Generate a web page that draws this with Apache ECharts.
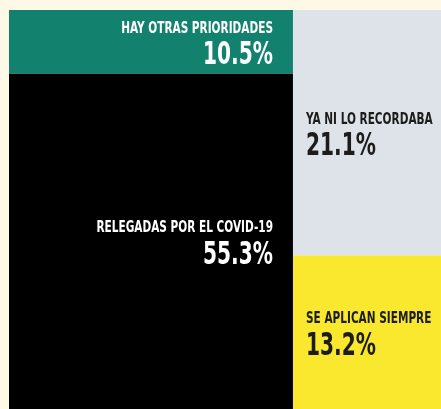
<!DOCTYPE html>
<html><head><meta charset="utf-8">
<script src="https://cdn.jsdelivr.net/npm/echarts@6/dist/echarts.min.js"></script>
<style>html,body{margin:0;padding:0;background:#fdf9e6;}#c{width:441px;height:409px;}</style>
</head><body><div id="c"></div>
<script>
// Data: two columns, each stacked top to bottom
const leftNames = ['HAY OTRAS PRIORIDADES', 'RELEGADAS POR EL COVID-19'];
const leftValues = [10.5, 55.3];
const rightNames = ['YA NI LO RECORDABA', 'SE APLICAN SIEMPRE'];
const rightValues = [21.1, 13.2];
const leftColors = ['#12826f', '#000000'];
const rightColors = ['#dde3e8', '#f9e82e'];
const leftText = ['#ffffff', '#ffffff'];
const rightText = ['#1c1c1c', '#1c1c1c'];

const FONT = '"DejaVu Sans Condensed", "DejaVu Sans", sans-serif';

const columns = [
  { names: leftNames, values: leftValues, colors: leftColors, text: leftText, side: 'right', pad: 20 },
  { names: rightNames, values: rightValues, colors: rightColors, text: rightText, side: 'left', pad: 13 }
];
const total = columns.reduce((s, c) => s + c.values.reduce((a, b) => a + b, 0), 0);

// Build marimekko cells from values (x in % of total, y in % of column)
const cells = [];
let xAcc = 0;
columns.forEach((col) => {
  const colSum = col.values.reduce((a, b) => a + b, 0);
  const x0 = xAcc, x1 = xAcc + colSum / total * 100;
  let yAcc = 0;
  col.values.forEach((v, i) => {
    const y0 = yAcc, y1 = yAcc + v / colSum * 100;
    cells.push({ value: [x0, x1, y0, y1, v], name: col.names[i], color: col.colors[i], textColor: col.text[i], side: col.side, pad: col.pad });
    yAcc = y1;
  });
  xAcc = x1;
});

const chart = echarts.init(document.getElementById('c'), null, { renderer: 'canvas' });
chart.setOption({
  backgroundColor: '#fdf9e6',
  animation: false,
  tooltip: { show: false },
  grid: { left: 9, top: 10, right: 0, bottom: 0 },
  xAxis: { type: 'value', min: 0, max: 100, show: false },
  yAxis: { type: 'value', min: 0, max: 100, inverse: true, show: false },
  series: [{
    type: 'custom',
    data: cells,
    renderItem: function (params, api) {
      const c = cells[params.dataIndex];
      const p0 = api.coord([api.value(0), api.value(2)]);
      const p1 = api.coord([api.value(1), api.value(3)]);
      const x = Math.min(p0[0], p1[0]), y = Math.min(p0[1], p1[1]);
      const w = Math.abs(p1[0] - p0[0]), h = Math.abs(p1[1] - p0[1]);
      const cy = y + h / 2;
      const ax = c.side === 'right' ? x + w - c.pad : x + c.pad;
      const pct = api.value(4).toFixed(1) + '%';
      return {
        type: 'group',
        children: [
          { type: 'rect', shape: { x: x, y: y, width: w, height: h }, style: { fill: c.color } },
          { type: 'text', x: ax, y: cy - 13, scaleX: 0.78,
            style: { x: 0, y: 0, text: c.name, fill: c.textColor, font: 'bold 15px ' + FONT, align: c.side, verticalAlign: 'middle' } },
          { type: 'text', x: ax, y: cy + 14, scaleX: 0.7,
            style: { x: 0, y: 0, text: pct, fill: c.textColor, font: 'bold 32px ' + FONT, align: c.side, verticalAlign: 'middle' } }
        ]
      };
    }
  }]
});
</script></body></html>
